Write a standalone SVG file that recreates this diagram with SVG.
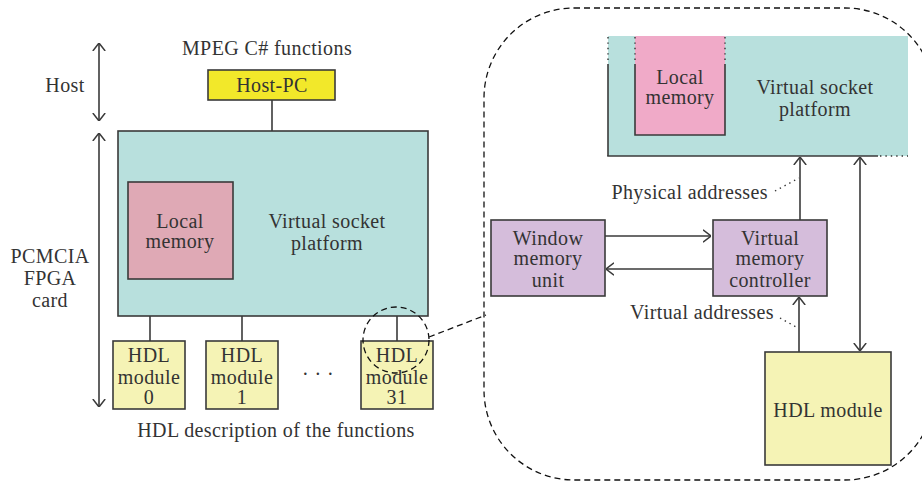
<svg xmlns="http://www.w3.org/2000/svg" width="922" height="483" viewBox="0 0 922 483">
<defs>
<style>
text{font-family:"Liberation Serif","Times New Roman",serif;font-size:20px;letter-spacing:0.4px;fill:#333;text-anchor:middle}
.box{stroke:#3a3a3a;stroke-width:1.6}
.ln{stroke:#3a3a3a;stroke-width:1.6;fill:none}
.dash{stroke:#111;stroke-width:1.3;fill:none;stroke-dasharray:6 4}
.dot{stroke:#333;stroke-width:1.4;fill:none;stroke-dasharray:1.4 4}
.teal{fill:#b8e0dd}
.arr{marker-end:url(#ah)}
.arr2{marker-start:url(#ah);marker-end:url(#ah)}
</style>
<marker id="ah" viewBox="0 0 8 14" refX="8" refY="7" markerWidth="8" markerHeight="14" markerUnits="userSpaceOnUse" orient="auto-start-reverse">
<path d="M0,0.8 L8,7 L0,13.2" fill="none" stroke="#3a3a3a" stroke-width="1.5"/>
</marker>
</defs>
<rect width="922" height="483" fill="#fff"/>

<g id="host-pc">
<rect class="box" x="208" y="70" width="127" height="30" fill="#f2e82a"/>
<text x="272" y="92">Host-PC</text>
</g>

<g id="vsp-left">
<rect class="box teal" x="118" y="131" width="310" height="185"/>
<text x="327" y="228">Virtual socket</text>
<text x="327" y="250">platform</text>
</g>

<g id="local-memory-left">
<rect class="box" x="128" y="182" width="105" height="97" fill="#dfa9b5"/>
<text x="180" y="228">Local</text>
<text x="180" y="248">memory</text>
</g>

<g id="hdl-0">
<rect class="box" x="113" y="341" width="72" height="68" fill="#f5f3b5"/>
<text x="149" y="362">HDL</text>
<text x="149" y="384">module</text>
<text x="149" y="404">0</text>
</g>
<g id="hdl-1">
<rect class="box" x="206" y="341" width="72" height="68" fill="#f5f3b5"/>
<text x="242" y="362">HDL</text>
<text x="242" y="384">module</text>
<text x="242" y="404">1</text>
</g>
<g id="hdl-31">
<rect class="box" x="361" y="341" width="72" height="68" fill="#f5f3b5"/>
<text x="397" y="362">HDL</text>
<text x="397" y="384">module</text>
<text x="397" y="404">31</text>
</g>

<g id="vsp-right">
<rect class="teal" x="608" y="36" width="300" height="120"/>
<line class="dot" x1="608" y1="37" x2="608" y2="64"/>
<line class="ln" x1="608" y1="64" x2="608" y2="156"/>
<line class="ln" x1="607.2" y1="156" x2="878" y2="156"/>
<line class="dot" x1="880" y1="156" x2="908" y2="156"/>
<text x="815" y="94">Virtual socket</text>
<text x="815" y="116">platform</text>
</g>

<g id="local-memory-right">
<rect x="635" y="36" width="90" height="99" fill="#f0aac8"/>
<line class="dot" x1="635" y1="37" x2="635" y2="64"/>
<line class="dot" x1="725" y1="37" x2="725" y2="64"/>
<path class="ln" d="M635,64 V135 H725 V64"/>
<text x="680" y="84">Local</text>
<text x="680" y="104">memory</text>
</g>

<g id="window-memory-unit">
<rect class="box" x="491" y="220" width="114" height="76" fill="#d5bddb"/>
<text x="548" y="245">Window</text>
<text x="548" y="265">memory</text>
<text x="548" y="287">unit</text>
</g>

<g id="virtual-memory-controller">
<rect class="box" x="713" y="220" width="114" height="76" fill="#d5bddb"/>
<text x="770" y="245">Virtual</text>
<text x="770" y="265">memory</text>
<text x="770" y="287">controller</text>
</g>

<g id="hdl-module">
<rect class="box" x="765" y="352" width="126" height="113" fill="#f5f3b5"/>
<text x="828" y="417">HDL module</text>
</g>

<g id="connectors">
<line class="ln arr2" x1="99" y1="43" x2="99" y2="121"/>
<line class="ln arr2" x1="99" y1="133" x2="99" y2="407"/>
<line class="ln" x1="272" y1="100" x2="272" y2="131"/>
<line class="ln" x1="150" y1="316" x2="150" y2="341"/>
<line class="ln" x1="242" y1="316" x2="242" y2="341"/>
<line class="ln" x1="397" y1="316" x2="397" y2="341"/>
<circle class="dash" cx="396" cy="340" r="33"/>
<line class="dash" x1="429" y1="337" x2="486" y2="315"/>
<rect class="dash" x="484" y="8" width="451" height="472" rx="90" ry="90"/>
<line class="ln arr" x1="800" y1="220" x2="800" y2="157"/>
<line class="ln arr2" x1="860" y1="157" x2="860" y2="351"/>
<line class="ln arr" x1="799" y1="352" x2="799" y2="297"/>
<line class="ln arr" x1="605" y1="236" x2="711" y2="236"/>
<line class="ln arr" x1="712" y1="269" x2="606" y2="269"/>
<line class="dot" x1="775" y1="191" x2="799" y2="178"/>
<line class="dot" x1="780" y1="318" x2="798" y2="328"/>
</g>

<g id="labels">
<text x="65" y="92">Host</text>
<text x="267" y="55">MPEG C# functions</text>
<text x="50" y="263">PCMCIA</text>
<text x="50" y="285">FPGA</text>
<text x="50" y="307">card</text>
<text x="318" y="381">· · ·</text>
<text x="276" y="437">HDL description of the functions</text>
<text x="768" y="199" style="text-anchor:end">Physical addresses</text>
<text x="774" y="319" style="text-anchor:end">Virtual addresses</text>
</g>
</svg>
